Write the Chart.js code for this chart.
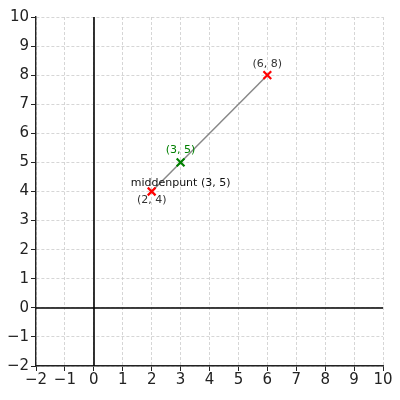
<!DOCTYPE html>
<html><head><meta charset="utf-8">
<script src="https://cdn.jsdelivr.net/npm/chart.js@4"></script>
<style>html,body{margin:0;padding:0;background:#fff}#wrap{width:400px;height:400px}</style>
</head><body><div id="wrap"><canvas id="c" width="400" height="400"></canvas></div>
<script>
const xTicks = [-2,-1,0,1,2,3,4,5,6,7,8,9,10];
const yTicks = [-2,-1,0,1,2,3,4,5,6,7,8,9,10];
const endpoints = [{x:2,y:4},{x:6,y:8}];
const midpoint = [{x:3,y:5}];
const labels = [
  {x:6,y:8,text:'(6, 8)',color:'#333333',dy:-11},
  {x:3,y:5,text:'(3, 5)',color:'#008000',dy:-12},
  {x:2,y:4,text:'(2, 4)',color:'#333333',dy:9},
  {x:3,y:5,text:'middenpunt (3, 5)',color:'#111111',dy:21}
];

const overlay = {
  id:'overlay',
  beforeDatasetsDraw(chart){
    const {ctx, chartArea:a, scales:{x,y}} = chart;
    ctx.save();
    ctx.strokeStyle='#000'; ctx.lineWidth=1.6;
    const x0=Math.round(x.getPixelForValue(0)), y0=Math.round(y.getPixelForValue(0));
    ctx.beginPath(); ctx.moveTo(x0,a.top); ctx.lineTo(x0,a.bottom); ctx.stroke();
    ctx.beginPath(); ctx.moveTo(a.left,y0); ctx.lineTo(a.right,y0); ctx.stroke();
    ctx.restore();
  },
  afterDatasetsDraw(chart){
    const {ctx, scales:{x,y}} = chart;
    ctx.save();
    ctx.font='11px "DejaVu Sans"';
    ctx.textAlign='center'; ctx.textBaseline='middle';
    labels.forEach(l=>{
      ctx.fillStyle=l.color;
      ctx.fillText(l.text, x.getPixelForValue(l.x), y.getPixelForValue(l.y)+l.dy);
    });
    ctx.restore();
  }
};

const tickFont = {family:'DejaVu Sans', size:15};
const tickFmt = v => (v<0 ? '\u2212'+Math.abs(v) : String(v));

new Chart(document.getElementById('c'), {
  type:'scatter',
  data:{datasets:[
    {data:endpoints, showLine:true, borderColor:'#888888', borderWidth:1.5, pointRadius:0, order:3},
    {data:endpoints, pointStyle:'crossRot', pointRadius:5.5, borderColor:'#ff0000', backgroundColor:'#ff0000', pointBorderWidth:2.2, order:1},
    {data:midpoint, pointStyle:'crossRot', pointRadius:5.5, borderColor:'#008000', backgroundColor:'#008000', pointBorderWidth:2.2, order:2}
  ]},
  options:{
    responsive:false, animation:false,
    layout:{padding:{top:17,right:17,left:0,bottom:0}},
    plugins:{legend:{display:false},tooltip:{enabled:false}},
    scales:{
      x:{type:'linear',min:xTicks[0],max:xTicks[xTicks.length-1],
        afterBuildTicks(s){s.ticks=xTicks.map(v=>({value:v}));},
        afterFit(s){s.height=34;},
        ticks:{font:tickFont,color:'#222',padding:0,callback:tickFmt,maxRotation:0,autoSkip:false},
        grid:{color:'#cccccc',lineWidth:0.8,tickLength:5,tickColor:'#222',tickWidth:1},
        border:{display:true,color:'#222',width:1.4,dash:[3,2]}
      },
      y:{type:'linear',min:yTicks[0],max:yTicks[yTicks.length-1],
        afterBuildTicks(s){s.ticks=yTicks.map(v=>({value:v}));},
        afterFit(s){s.width=36;},
        ticks:{font:tickFont,color:'#222',padding:2,callback:tickFmt,autoSkip:false},
        grid:{color:'#cccccc',lineWidth:0.8,tickLength:5,tickColor:'#222',tickWidth:1},
        border:{display:true,color:'#222',width:1.4,dash:[3,2]}
      }
    }
  },
  plugins:[overlay]
});
</script></body></html>
